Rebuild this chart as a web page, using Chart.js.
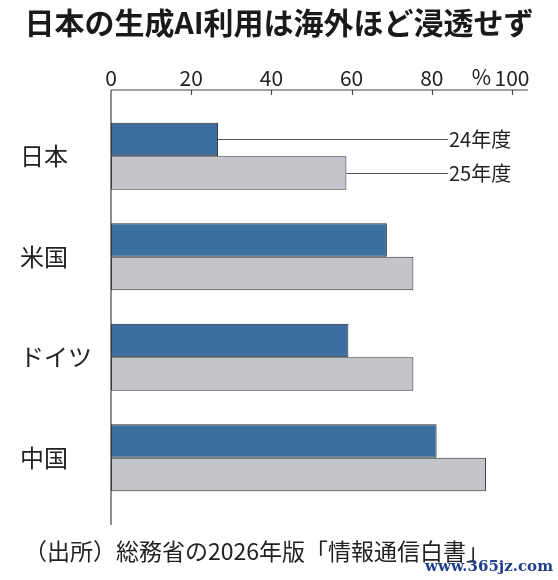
<!DOCTYPE html>
<html>
<head>
<meta charset="utf-8">
<script src="https://cdn.jsdelivr.net/npm/chart.js@4"></script>
<style>
  html, body { margin: 0; padding: 0; background: #fff; }
  #wrap { width: 558px; height: 580px; position: relative; }
</style>
</head>
<body>
<div id="wrap"><canvas id="aiChart" width="558" height="580"></canvas></div>
<script>
const FONT = '"Noto Sans CJK JP", "Noto Sans", sans-serif';

const countries = ['日本', '米国', 'ドイツ', '中国'];
const seriesNames = ['24年度', '25年度'];
const fy2024 = [26.7, 68.8, 59.2, 81.2];
const fy2025 = [58.7, 75.4, 75.4, 93.5];
const xTicks = [0, 20, 40, 60, 80, 100];

const titleText = '日本の生成AI利用は海外ほど浸透せず';
const sourceText = '（出所）総務省の2026年版「情報通信白書」';

/**
 * Axis lines, inward ticks, leader labels and page texts
 */
const decorations = {
    id: 'decorations',
    afterDraw(chart) {
        const { ctx, chartArea } = chart;
        const xs = chart.scales.x;
        const axisY = 90;
        const left = xs.getPixelForValue(0);

        ctx.save();
        ctx.strokeStyle = '#444';
        ctx.lineWidth = 1.2;
        ctx.beginPath();
        ctx.moveTo(left, axisY);
        ctx.lineTo(chartArea.right + 16, axisY);
        ctx.moveTo(left, axisY);
        ctx.lineTo(left, 525);
        xTicks.slice(1).forEach(v => {
            const px = Math.round(xs.getPixelForValue(v)) + 0.5;
            ctx.moveTo(px, axisY);
            ctx.lineTo(px, axisY + 5);
        });
        ctx.stroke();

        // % unit next to 100
        ctx.fillStyle = '#222';
        ctx.font = '21px ' + FONT;
        ctx.textAlign = 'right';
        ctx.textBaseline = 'middle';
        ctx.fillText('%', xs.getPixelForValue(100) - 21, 77);

        // leader lines to series names from the first category
        ctx.strokeStyle = '#555';
        ctx.lineWidth = 1;
        ctx.font = '20px ' + FONT;
        ctx.textAlign = 'left';
        chart.data.datasets.forEach((ds, i) => {
            const bar = chart.getDatasetMeta(i).data[0];
            const y = Math.round(bar.y) + 0.5;
            ctx.beginPath();
            ctx.moveTo(bar.x, y);
            ctx.lineTo(448, y);
            ctx.stroke();
            ctx.fillText(ds.label, 449, bar.y);
        });

        // title and source
        ctx.fillStyle = '#1a1a1a';
        ctx.font = 'bold 30px ' + FONT;
        ctx.textAlign = 'center';
        ctx.fillText(titleText, 279, 23);

        ctx.fillStyle = '#222';
        ctx.font = '23px ' + FONT;
        ctx.textAlign = 'left';
        ctx.fillText(sourceText, 24, 551);

        ctx.fillStyle = '#1f3f8f';
        ctx.font = 'bold 15px "DejaVu Serif", "Liberation Serif", serif';
        ctx.textAlign = 'right';
        ctx.fillText('www.365jz.com', 553, 567);
        ctx.restore();
    },
};

new Chart(document.getElementById('aiChart'), {
    type: 'bar',
    data: {
        labels: countries,
        datasets: [{
            label: seriesNames[0],
            data: fy2024,
            backgroundColor: 'rgb(60, 111, 159)',
            borderColor: '#2b2b2b',
            borderWidth: 1,
            borderSkipped: false,
            barPercentage: 1,
            categoryPercentage: 0.667,
        }, {
            label: seriesNames[1],
            data: fy2025,
            backgroundColor: 'rgb(195, 197, 203)',
            borderColor: '#2b2b2b',
            borderWidth: 1,
            borderSkipped: false,
            barPercentage: 1,
            categoryPercentage: 0.667,
        }],
    },
    options: {
        indexAxis: 'y',
        responsive: false,
        animation: false,
        devicePixelRatio: 1,
        layout: {
            padding: { left: 20, right: 46, top: 56, bottom: 72 },
        },
        plugins: {
            legend: { display: false },
            tooltip: { enabled: false },
        },
        scales: {
            x: {
                position: 'top',
                min: 0,
                max: 100,
                afterBuildTicks: scale => {
                    scale.ticks = xTicks.map(v => ({ value: v }));
                },
                afterFit: scale => { scale.height = 50; },
                grid: { display: false, drawTicks: false },
                border: { display: false },
                ticks: {
                    padding: 15,
                    maxRotation: 0,
                    color: '#222',
                    font: { family: FONT, size: 21 },
                },
            },
            y: {
                afterFit: scale => { scale.width = 91; },
                grid: { display: false, drawTicks: false },
                border: { display: false },
                ticks: {
                    crossAlign: 'far',
                    padding: 0,
                    color: '#222',
                    font: { family: FONT, size: 24 },
                },
            },
        },
    },
    plugins: [decorations],
});
</script>
</body>
</html>
